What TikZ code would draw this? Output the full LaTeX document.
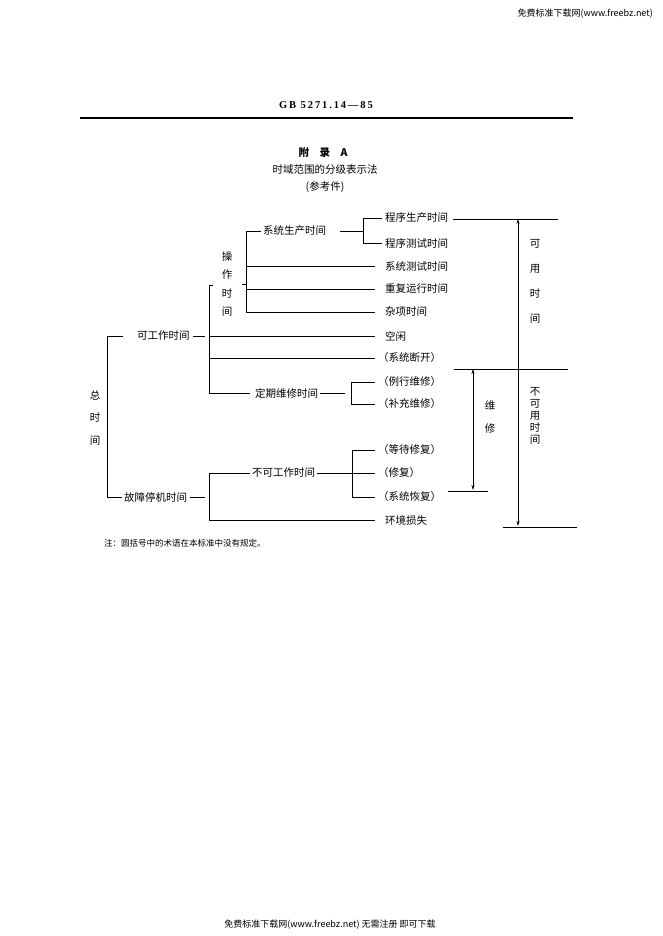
\documentclass[tikz,border=0pt]{standalone}
\usepackage{fontspec}
\setmainfont{Liberation Serif}
\newfontfamily\cjk{Noto Sans CJK SC}
\newfontfamily\gbfont[LetterSpace=18]{Liberation Serif}
\usetikzlibrary{arrows.meta}
\begin{document}
\begin{tikzpicture}[x=1pt,y=-1pt,
  lab/.style={inner sep=0pt, anchor=west, font=\cjk\fontsize{10.5}{12}\selectfont},
  vlab/.style={inner sep=0pt, align=center, font=\cjk\fontsize{10.5}{#1}\selectfont},
  ln/.style={line width=0.6pt},
  dim/.style={line width=0.6pt, {Stealth[length=5pt,width=3pt]}-{Stealth[length=5pt,width=3pt]}}]
\useasboundingbox (0,0) rectangle (662,936);
% header / footer
\node[inner sep=0pt, anchor=east, font=\cjk\fontsize{9}{10}\selectfont] (hdr) at (653,14) {免费标准下载网(www.freebz.net)};
\node[inner sep=0pt, font=\cjk\fontsize{9}{10}\selectfont] (ftr) at (330,925) {免费标准下载网(www.freebz.net) 无需注册 即可下载};
\node[inner sep=0pt, font=\gbfont\bfseries\fontsize{10.5}{12}\selectfont] (gb) at (326,105) {GB 5271.14—85};
\coordinate (rl) at (80,118); \coordinate (rr) at (573,118);
\draw[line width=1.6pt] (rl) -- (rr);
\node[inner sep=0pt, font=\cjk\bfseries\fontsize{10.5}{12}\selectfont] (fl) at (323,153) {附\quad 录\quad A};
\node[inner sep=0pt, font=\cjk\fontsize{10.5}{12}\selectfont] (tt) at (325,170) {时域范围的分级表示法};
\node[inner sep=0pt, font=\cjk\fontsize{10.5}{12}\selectfont] (ck) at (325,187) {(参考件)};
% labels
\node[lab] (sys) at (263,231) {系统生产时间};
\node[lab] (p1) at (385,218) {程序生产时间};
\node[lab] (p2) at (385,243) {程序测试时间};
\node[lab] (st) at (385,266) {系统测试时间};
\node[lab] (cf) at (385,289) {重复运行时间};
\node[lab] (zx) at (385,312) {杂项时间};
\node[lab] (kx) at (385,336) {空闲};
\node[lab] (dk) at (378,358) {（系统断开）};
\node[lab] (lx) at (378,382) {（例行维修）};
\node[lab] (bc) at (378,404) {（补充维修）};
\node[lab] (dd) at (378,450) {（等待修复）};
\node[lab] (xf) at (378,473) {（修复）};
\node[lab] (hf) at (378,497) {（系统恢复）};
\node[lab] (hj) at (385,520) {环境损失};
\node[lab] (kgz) at (137,336) {可工作时间};
\node[lab] (gz) at (124,497) {故障停机时间};
\node[lab] (dq) at (255,393) {定期维修时间};
\node[lab] (bk) at (252,473) {不可工作时间};
\node[vlab=18.5] (cz) at (227,284) {操\\作\\时\\间};
\node[vlab=22.5] (zsj) at (95,418) {总\\时\\间};
\node[vlab=25] (kys) at (535,281) {可\\用\\时\\间};
\node[vlab=23] (wx) at (490,417) {维\\修};
\node[vlab=12] (bky) at (535,416) {不\\可\\用\\时\\间};
% bracket points
\coordinate (a0) at (107,336); \coordinate (a1) at (107,497);
\coordinate (b0) at (209,285); \coordinate (b1) at (209,393);
\coordinate (b2) at (209,473); \coordinate (b3) at (209,520);
\coordinate (c0) at (246,231); \coordinate (c1) at (246,312);
\coordinate (d0) at (363,218); \coordinate (d1) at (363,243);
\coordinate (e0) at (351,382); \coordinate (e1) at (351,404);
\coordinate (f0) at (352,450); \coordinate (f1) at (352,497);
% level 1
\draw[ln] ([xshift=-14pt]kgz.west) -- (a0) -- (a1) -- ([xshift=-2pt]gz.west);
\draw[ln] ([xshift=3pt]kgz.east) -- (205,336);
\draw[ln] ([xshift=3pt]gz.east) -- (205,497);
% level 2 (working)
\draw[ln] (213,285) -- (b0) -- (b1) -- ([xshift=-5pt]dq.west);
\draw[ln] (209,336) -- ([xshift=-10pt]kx.west);
\draw[ln] (209,358) -- ([xshift=-3pt]dk.west);
\draw[ln] ([xshift=10pt]cz.east |- 0,284) -- (246,284);
% level 3 (operating)
\draw[ln] ([xshift=-2pt]sys.west) -- (c0) -- (c1) -- ([xshift=-10pt]zx.west);
\draw[ln] (246,266) -- ([xshift=-10pt]st.west);
\draw[ln] (246,289) -- ([xshift=-10pt]cf.west);
% level 4
\draw[ln] ([xshift=14pt]sys.east) -- (363,231);
\draw[ln] ([xshift=-3pt]p1.west) -- (d0) -- (d1) -- ([xshift=-3pt]p2.west);
% maintenance
\draw[ln] ([xshift=2pt]dq.east) -- (345,393);
\draw[ln] ([xshift=-3pt]lx.west) -- (e0) -- (e1) -- ([xshift=-3pt]bc.west);
% down
\draw[ln] ([xshift=-2pt]bk.west) -- (b2) -- (b3) -- ([xshift=-10pt]hj.west);
\draw[ln] ([xshift=2pt]bk.east) -- ([xshift=-3pt]xf.west);
\draw[ln] ([xshift=-3pt]dd.west) -- (f0) -- (f1) -- ([xshift=-3pt]hf.west);
% right side dimension lines
\coordinate (r0) at (558,219); \coordinate (u0) at (518,219);
\coordinate (u1) at (518,526);
\coordinate (m0) at (454,369); \coordinate (m1) at (568,369);
\coordinate (n0) at (503,527); \coordinate (n1) at (577,527);
\coordinate (w0) at (473,369); \coordinate (w1) at (473,490);
\coordinate (o0) at (448,491); \coordinate (o1) at (488,491);
\draw[line width=0.8pt] ([xshift=5pt]p1.east |- r0) -- (r0);
\draw[ln] (m0) -- (m1);
\draw[ln] (n0) -- (n1);
\draw[ln] (o0) -- (o1);
\draw[dim] (u0) -- (u1);
\draw[dim] (w0) -- (w1);
% note
\node[inner sep=0pt, anchor=west, font=\cjk\fontsize{8.5}{10}\selectfont] (note) at (104,543) {注：圆括号中的术语在本标准中没有规定。};
\end{tikzpicture}
\end{document}
